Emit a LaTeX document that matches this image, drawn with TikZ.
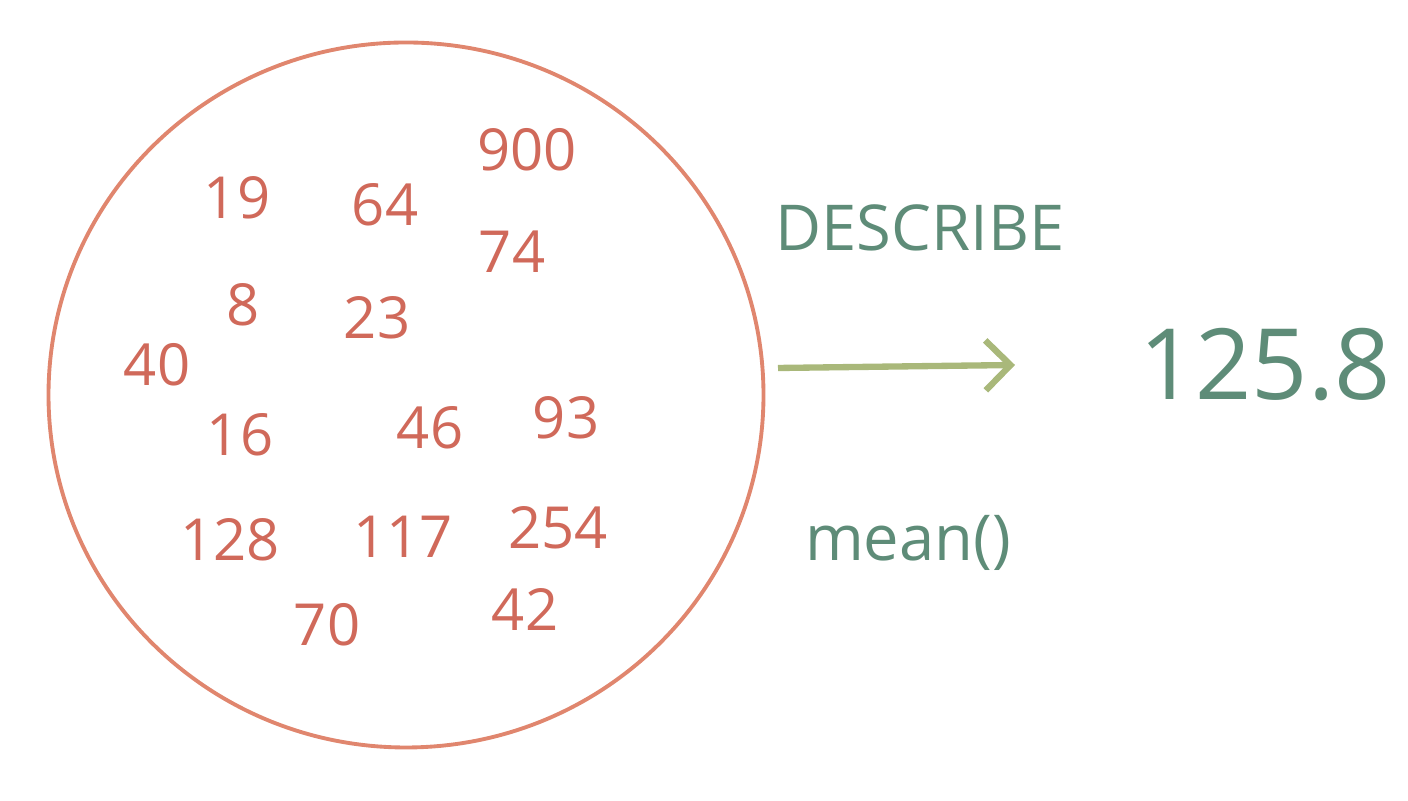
\documentclass[tikz,border=0pt]{standalone}
\usepackage{fontspec}
\setmainfont{Open Sans}
\usetikzlibrary{arrows.meta,shapes.geometric}

\definecolor{numred}{HTML}{D0695A}
\definecolor{ringred}{HTML}{E0866E}
\definecolor{descgreen}{HTML}{5E8C78}
\definecolor{arrowgreen}{HTML}{A9B87A}

\tikzset{
    num/.style={text=numred, font=\fontsize{16.5}{20}\selectfont},
    label/.style={text=descgreen, font=\fontsize{18}{22}\selectfont},
}

\begin{document}
\begin{tikzpicture}
    \useasboundingbox (0,0) rectangle (14.08,-8.01);

    % the pool of values
    \node[draw=ringred, line width=1.1pt, ellipse, minimum width=7.15cm, minimum height=7.05cm] (pool) at (4.06,-3.95) {};

    \node[num] (n900) at (5.27,-1.50) {900};
    \node[num] (n19)  at (2.37,-1.98) {19};
    \node[num] (n64)  at (3.85,-2.05) {64};
    \node[num] (n74)  at (5.12,-2.52) {74};
    \node[num] (n8)   at (2.43,-3.05) {8};
    \node[num] (n23)  at (3.77,-3.18) {23};
    \node[num] (n40)  at (1.57,-3.65) {40};
    \node[num] (n16)  at (2.40,-4.35) {16};
    \node[num] (n46)  at (4.30,-4.28) {46};
    \node[num] (n93)  at (5.66,-4.18) {93};
    \node[num] (n128) at (2.30,-5.40) {128};
    \node[num] (n117) at (4.03,-5.37) {117};
    \node[num] (n254) at (5.58,-5.28) {254};
    \node[num] (n70)  at (3.27,-6.25) {70};
    \node[num] (n42)  at (5.25,-6.10) {42};

    % describe step
    \node[label] (describe) at (9.20,-2.28) {DESCRIBE};
    \node[label] (mean) at (9.08,-5.43) {mean()};
    \node[text=descgreen, font=\fontsize{28}{34}\selectfont] (result) at (12.65,-3.65) {125.8};

    \coordinate (from) at (7.78,-3.68);
    \coordinate (to) at (10.15,-3.65);
    \draw[arrowgreen, line width=1.8pt, -{Straight Barb[length=2.5mm,width=5mm]}] (from) -- (to);
\end{tikzpicture}
\end{document}
